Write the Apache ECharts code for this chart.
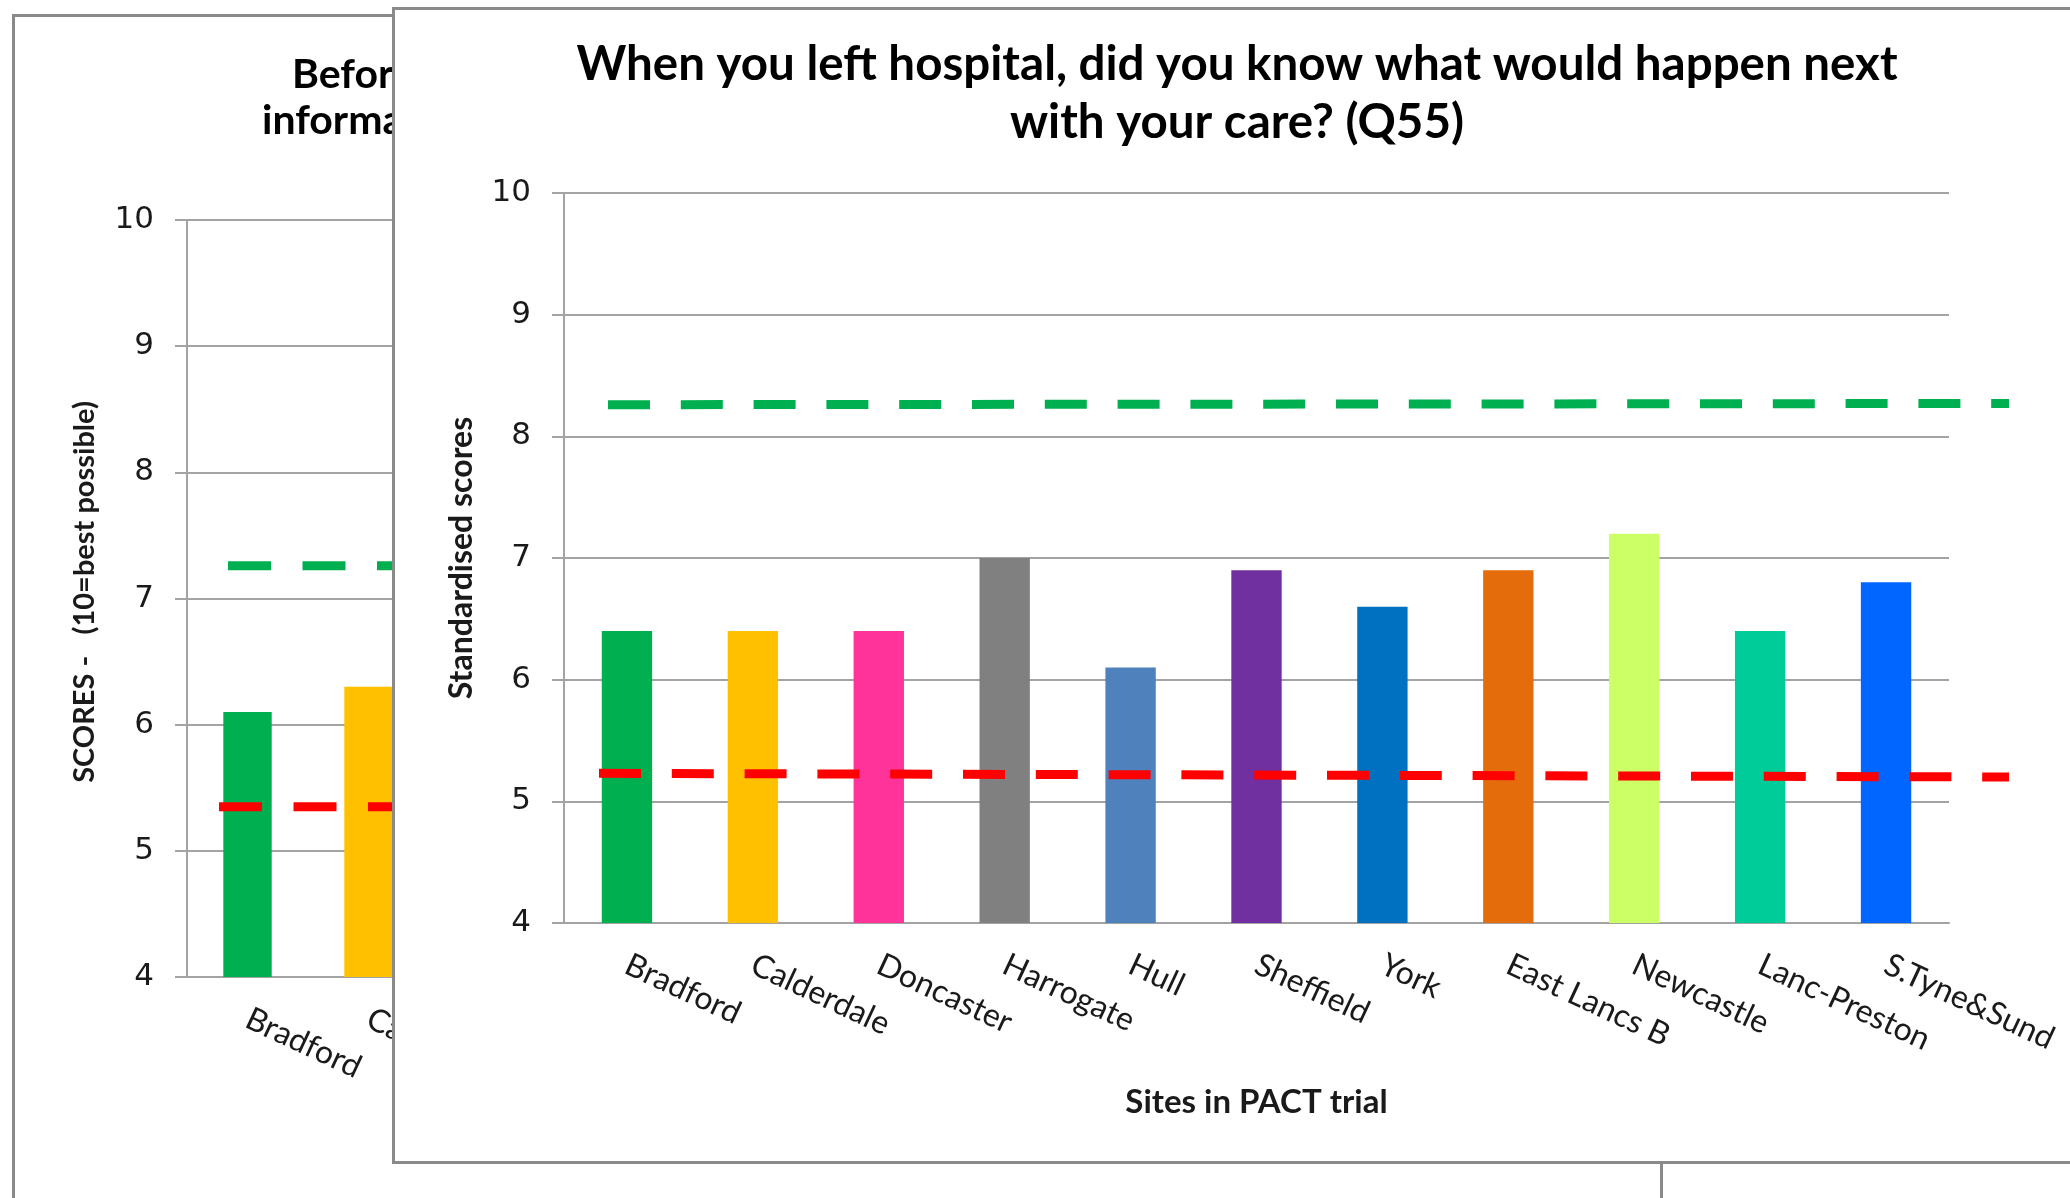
<!DOCTYPE html>
<html>
<head>
<meta charset="utf-8">
<script src="https://cdn.jsdelivr.net/npm/echarts@6/dist/echarts.min.js"></script>
<style>
  html, body { margin: 0; padding: 0; width: 2070px; height: 1198px; overflow: hidden; background: #fff; }
  .panel { position: absolute; box-sizing: border-box; border: 3px solid #8a8a8a; background: #fff; }
  #back { left: 12px; top: 14px; width: 1651px; height: 1300px; }
  #front { left: 392px; top: 7px; width: 1740px; height: 1157px; }
  .chart { width: 100%; height: 100%; }
</style>
</head>
<body>
<div class="panel" id="back"><div class="chart" id="backChart"></div></div>
<div class="panel" id="front"><div class="chart" id="frontChart"></div></div>
<script>
// sites in the PACT trial, same order on both charts
const sites = ['Bradford', 'Calderdale', 'Doncaster', 'Harrogate', 'Hull', 'Sheffield',
  'York', 'East Lancs B', 'Newcastle', 'Lanc-Preston', 'S.Tyne&Sund']
const siteColors = ['#00B050', '#FFC000', '#FF3399', '#808080', '#4F81BD', '#7030A0',
  '#0070C0', '#E46C0A', '#CCFF66', '#00CC99', '#0066FF']

// front chart: Q55
const q55Scores = [6.4, 6.4, 6.4, 7.0, 6.1, 6.9, 6.6, 6.9, 7.2, 6.4, 6.8]
const q55Upper = [8.26, 8.27]   // green dashed line, start / end
const q55Lower = [5.23, 5.20]   // red dashed line, start / end

// back chart: only the first two bars are visible, the rest sit under the front chart
const backScores = [6.1, 6.3, null, null, null, null, null, null, null, null, null]
const backUpper = [7.26, 7.26]
const backLower = [5.35, 5.35]

const yMin = 4
const yMax = 10

const gray = '#a3a3a3'
const ink = '#1a1a1a'

function buildOption(o) {
  return {
    animation: false,
    graphic: o.titleLines.map(t => ({
      type: 'text', x: t.x, y: t.y,
      style: { text: t.text, font: 'bold ' + o.titleSize + 'px Lato', fill: '#000', textAlign: t.align, textVerticalAlign: 'middle' }
    })),
    grid: [
      { left: o.plot.left, top: o.plot.top, width: o.plot.width, height: o.plot.height },
      { left: o.line.left, top: o.plot.top, width: o.line.width, height: o.plot.height }
    ],
    xAxis: [
      {
        type: 'category', data: sites, gridIndex: 0,
        name: o.xName, nameLocation: 'middle', nameGap: o.xNameGap,
        nameTextStyle: { fontFamily: 'Lato', fontWeight: 'bold', fontSize: 33, color: ink },
        axisLine: { lineStyle: { color: gray, width: 2 } },
        axisTick: { length: 10, lineStyle: { color: gray, width: 2 } },
        axisLabel: { rotate: -25, margin: o.xLabelMargin, fontFamily: 'Lato', fontSize: 32, color: ink, interval: 0 }
      },
      { type: 'value', gridIndex: 1, min: 0, max: 1, show: false }
    ],
    yAxis: [
      {
        type: 'value', gridIndex: 0, min: yMin, max: yMax, interval: 1,
        name: o.yName, nameLocation: 'middle', nameGap: o.yNameGap, nameRotate: 90,
        nameTextStyle: { fontFamily: 'Lato', fontWeight: 'bold', fontSize: o.yNameSize, color: ink, padding: o.yNamePad },
        axisLine: { show: true, lineStyle: { color: gray, width: 2 } },
        axisTick: { show: true, length: 12, lineStyle: { color: gray, width: 2 } },
        axisLabel: { margin: 33, fontFamily: 'DejaVu Sans', fontSize: 31, color: ink },
        splitLine: { lineStyle: { color: gray, width: 2 } }
      },
      { type: 'value', gridIndex: 1, min: yMin, max: yMax, show: false }
    ],
    series: [
      {
        type: 'bar', barWidth: '40%',
        data: o.scores.map((v, i) => ({ value: v, itemStyle: { color: siteColors[i] } }))
      },
      {
        type: 'line', xAxisIndex: 1, yAxisIndex: 1, symbol: 'none',
        data: o.upper.map((v, i) => [i, v]),
        lineStyle: { color: '#00B050', width: 9, type: o.dash, dashOffset: o.greenOffset, cap: 'butt' }
      },
      {
        type: 'line', xAxisIndex: 1, yAxisIndex: 1, symbol: 'none',
        data: o.lower.map((v, i) => [i, v]),
        lineStyle: { color: '#FF0000', width: 9, type: o.dash, cap: 'butt' }
      }
    ]
  }
}

const backChart = echarts.init(document.getElementById('backChart'))
backChart.setOption(buildOption({
  titleLines: [
    { text: 'Before you left hospital, were you given any written or printed', x: 277, y: 58, align: 'left' },
    { text: 'information about what you should or should not do after leaving hospital?', x: 247, y: 104, align: 'left' }
  ],
  titleSize: 41,
  plot: { left: 172, top: 203, width: 1331, height: 757 },
  line: { left: 204, width: 1360 },
  xName: '', xNameGap: 160, xLabelMargin: 40,
  yName: 'SCORES -   (10=best possible)', yNameGap: 88, yNameSize: 29, yNamePad: [0, 0, 0, 13],
  scores: backScores, upper: backUpper, lower: backLower,
  dash: [43, 31.5], greenOffset: 65.5
}))

const frontChart = echarts.init(document.getElementById('frontChart'))
frontChart.setOption(buildOption({
  titleLines: [
    { text: 'When you left hospital, did you know what would happen next', x: 842, y: 55, align: 'center' },
    { text: 'with your care? (Q55)', x: 842, y: 113, align: 'center' }
  ],
  titleSize: 47.5,
  plot: { left: 169, top: 183, width: 1385, height: 730 },
  line: { left: 204, width: 1410 },
  xName: 'Sites in PACT trial', xNameGap: 163, xLabelMargin: 40,
  yName: 'Standardised scores', yNameGap: 86, yNameSize: 32, yNamePad: 0,
  scores: q55Scores, upper: q55Upper, lower: q55Lower,
  dash: [42, 30.8], greenOffset: 63.8
}))
</script>
</body>
</html>
